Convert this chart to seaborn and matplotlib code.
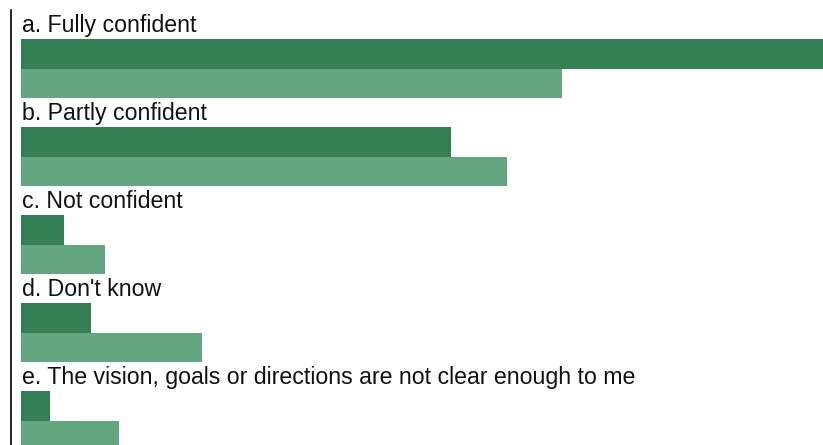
import matplotlib
matplotlib.use("Agg")
import matplotlib.pyplot as plt
import pandas as pd
import seaborn as sns

# answer categories and the two series (percent)
categories = [
    "a. Fully confident",
    "b. Partly confident",
    "c. Not confident",
    "d. Don't know",
    "e. The vision, goals or directions are not clear enough to me",
]
series_names = ["Group 1", "Group 2"]
group1 = [58.4, 31.3, 3.1, 5.1, 2.1]
group2 = [39.4, 35.4, 6.1, 13.2, 7.1]

colors = {"Group 1": "#348054", "Group 2": "#63a680"}

# each category takes three slots: label, first bar, second bar
rows = []
for i, cat in enumerate(categories):
    rows.append({"pos": 3 * i + 1.5, "value": group1[i], "series": series_names[0]})
    rows.append({"pos": 3 * i + 2.5, "value": group2[i], "series": series_names[1]})
df = pd.DataFrame(rows)

sns.set_style("white")
plt.rcParams["font.family"] = ["Liberation Sans", "DejaVu Sans"]

fig = plt.figure(figsize=(8.23, 4.45), dpi=100)
ax = fig.add_axes([11 / 823, -5 / 445, 812 / 823, 440 / 445])

sns.barplot(data=df, x="value", y="pos", hue="series", orient="h",
            native_scale=True, dodge=False, width=1.0, palette=colors,
            linewidth=0, saturation=1, legend=False, ax=ax)

xmax = max(group1 + group2)
ax.set_xlim(-xmax * 10 / 802, xmax)
ax.set_ylim(15, 0)

for i, cat in enumerate(categories):
    ax.text(0.05, 3 * i + 0.76, cat, fontsize=16.7, color="#111111",
            ha="left", va="baseline")

ax.set_xlabel("")
ax.set_ylabel("")
ax.set_xticks([])
ax.set_yticks([])
for side in ["top", "right", "bottom"]:
    ax.spines[side].set_visible(False)
ax.spines["left"].set_color("black")
ax.spines["left"].set_linewidth(1.2)

fig.savefig("out.png", dpi=100)
